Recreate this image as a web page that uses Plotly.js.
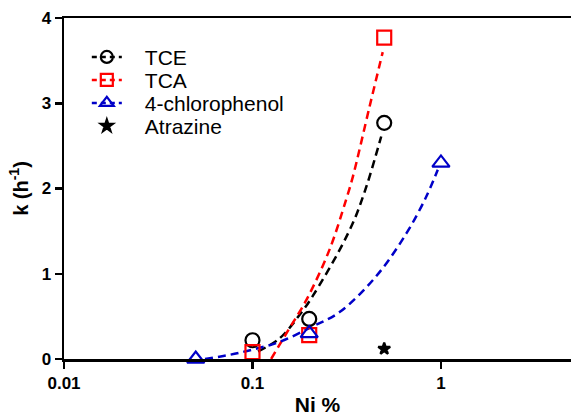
<!DOCTYPE html>
<html>
<head>
<meta charset="utf-8">
<script src="https://cdn.plot.ly/plotly-3.0.1.min.js"></script>
<style>html,body{margin:0;padding:0;background:#fff;}#chart{width:571px;height:416px;}</style>
</head>
<body>
<div id="chart"></div>
<script>
// Measured data points
const tceX = [0.1, 0.2, 0.5];
const tceY = [0.22, 0.47, 2.77];
const tcaX = [0.1, 0.2, 0.5];
const tcaY = [0.08, 0.28, 3.77];
const cpX = [0.05, 0.2, 1.0];
const cpY = [0.0, 0.30, 2.30];
const atzX = [0.5];
const atzY = [0.12];

// Fitted curves
const tceFitX = [0.107, 0.139, 0.181, 0.209, 0.29, 0.348, 0.385, 0.418, 0.482];
const tceFitY = [0.09, 0.24, 0.54, 0.74, 1.28, 1.64, 1.90, 2.14, 2.61];
const tcaFitX = [0.1256, 0.157, 0.193, 0.256, 0.314, 0.341, 0.418, 0.491];
const tcaFitY = [0.0, 0.36, 0.69, 1.28, 1.87, 2.14, 2.96, 3.60];
const cpFitX = [0.056, 0.076, 0.1, 0.139, 0.208, 0.29, 0.453, 0.654, 0.834, 0.962];
const cpFitY = [0.0, 0.05, 0.11, 0.20, 0.38, 0.55, 0.97, 1.47, 1.90, 2.22];

const names = ['TCE', 'TCA', '4-chlorophenol', 'Atrazine'];
const colors = ['#000000', '#ff0000', '#0000c8', '#000000'];
const dash = '8px,5px';

function fit(x, y, c) {
  return {x: x, y: y, type: 'scatter', mode: 'lines', showlegend: false, hoverinfo: 'skip',
    line: {color: c, width: 2.5, dash: dash, shape: 'spline'}, cliponaxis: false};
}
function pts(x, y, c, sym, size) {
  return {x: x, y: y, type: 'scatter', mode: 'markers', showlegend: false, cliponaxis: false,
    marker: {symbol: sym, size: size, color: c, line: {color: c, width: 2.2}}};
}
function leg(name, c, sym, size, withLine) {
  return {x: [null], y: [null], type: 'scatter', name: name, mode: withLine ? 'lines+markers' : 'markers',
    line: {color: c, width: 2.5, dash: '5px,4px'},
    marker: {symbol: sym, size: size, color: c, line: {color: c, width: 2.2}}};
}

const data = [
  fit(tceFitX, tceFitY, colors[0]),
  fit(tcaFitX, tcaFitY, colors[1]),
  fit(cpFitX, cpFitY, colors[2]),
  pts(tceX, tceY, colors[0], 'circle-open', 14),
  pts(tcaX, tcaY, colors[1], 'square-open', 14),
  pts(cpX, cpY, colors[2], 'triangle-up-open', 15),
  pts(atzX, atzY, colors[3], 'star', 9),
  leg(names[0], colors[0], 'circle-open', 12, true),
  leg(names[1], colors[1], 'square-open', 12, true),
  leg(names[2], colors[2], 'triangle-up-open', 12, true),
  leg(names[3], colors[3], 'star', 9, false)
];

const layout = {
  width: 571, height: 416,
  margin: {l: 64, r: 0, t: 18, b: 57},
  paper_bgcolor: '#ffffff', plot_bgcolor: '#ffffff',
  font: {family: 'Liberation Sans, Arial, sans-serif', color: '#000'},
  xaxis: {
    type: 'log', range: [-2, 0.69],
    tickvals: [0.01, 0.1, 1], ticktext: ['0.01', '0.1', '1'],
    showgrid: false, zeroline: false,
    showline: true, linecolor: '#000', linewidth: 2.5, mirror: true,
    ticks: 'outside', ticklen: 7, tickwidth: 2.5, tickcolor: '#000',
    tickfont: {size: 17, family: 'Liberation Sans, Arial, sans-serif', weight: 'bold'},
    title: {text: '<b>Ni %</b>', font: {size: 21}, standoff: 8}
  },
  yaxis: {
    range: [0, 4], tickvals: [0, 1, 2, 3, 4],
    showgrid: false, zeroline: false,
    showline: true, linecolor: '#000', linewidth: 2.5,
    ticks: 'outside', ticklen: 7, tickwidth: 2.5, tickcolor: '#000',
    tickfont: {size: 17, family: 'Liberation Sans, Arial, sans-serif', weight: 'bold'},
    title: {text: '<b>k (h<sup>-1</sup>)</b>', font: {size: 20}, standoff: 8}
  },
  legend: {
    x: 0.045, y: 0.945, xanchor: 'left', yanchor: 'top',
    bgcolor: 'rgba(0,0,0,0)', borderwidth: 0,
    font: {size: 21, family: 'Liberation Sans, Arial, sans-serif'},
    tracegroupgap: 0, itemwidth: 30
  },
  showlegend: true
};

Plotly.newPlot('chart', data, layout, {displayModeBar: false, staticPlot: true}).then(function (gd) {
  // tighten legend row spacing and widen symbol-to-text gap to match the reference
  gd.querySelectorAll('.legend, .legend *').forEach(function (el) {
    if (el.hasAttribute && el.hasAttribute('clip-path')) el.removeAttribute('clip-path');
  });
  const items = gd.querySelectorAll('.legend .traces');
  if (!items.length) return;
  const m = /translate\(\s*([-\d.]+)[ ,]+([-\d.]+)/.exec(items[0].getAttribute('transform') || '');
  if (!m) return;
  const x0 = parseFloat(m[1]), y0 = parseFloat(m[2]);
  items.forEach(function (el, i) {
    el.setAttribute('transform', 'translate(' + x0 + ',' + (y0 + i * 23) + ')');
    const t = el.querySelector('text.legendtext');
    if (t) {
      const tx = parseFloat(t.getAttribute('x') || '40');
      t.setAttribute('x', tx + 18);
    }
  });
});
</script>
</body>
</html>
